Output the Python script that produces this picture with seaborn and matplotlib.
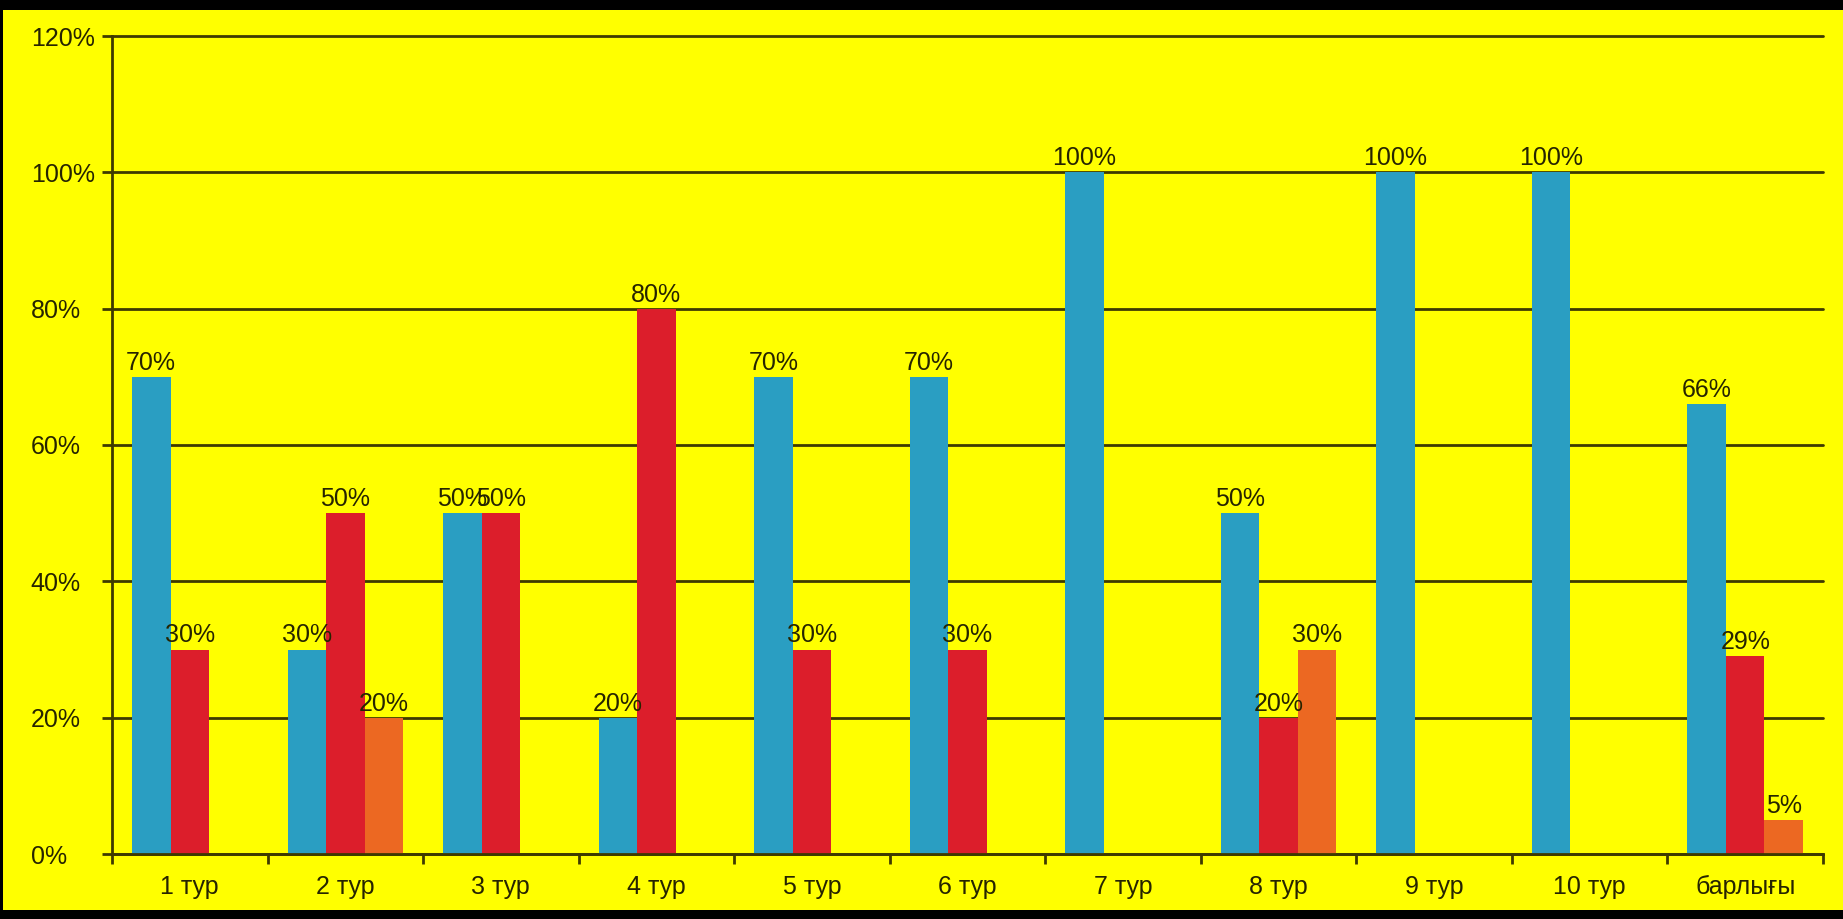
import matplotlib
matplotlib.use("Agg")
import matplotlib.pyplot as plt
import seaborn as sns
import pandas as pd
from matplotlib.patches import Rectangle
from matplotlib.ticker import FixedLocator

# ---- data ----
categories = ["1 тур", "2 тур", "3 тур", "4 тур", "5 тур", "6 тур",
              "7 тур", "8 тур", "9 тур", "10 тур", "барлығы"]
series_names = ["1-серия", "2-серия", "3-серия"]
blue_vals = [70, 30, 50, 20, 70, 70, 100, 50, 100, 100, 66]
red_vals = [30, 50, 50, 80, 30, 30, 0, 20, 0, 0, 29]
orange_vals = [0, 20, 0, 0, 0, 0, 0, 30, 0, 0, 5]
y_ticks = [0, 20, 40, 60, 80, 100, 120]
y_tick_labels = [f"{t}%" for t in y_ticks]

colors = ["#2A9EC2", "#DC1E2B", "#EC6822"]
text_color = "#262400"
grid_color = "#3E3A00"

df = pd.DataFrame({
    "category": categories * 3,
    "series": [series_names[0]] * len(categories)
              + [series_names[1]] * len(categories)
              + [series_names[2]] * len(categories),
    "value": blue_vals + red_vals + orange_vals,
})

sns.set_theme(style="white")
plt.rcParams['font.family'] = ['Liberation Sans', 'DejaVu Sans']

W, H = 1843, 919
FS = 18
fig = plt.figure(figsize=(W / 100, H / 100), dpi=100, facecolor="black")
fig.patches.append(Rectangle((3 / W, 9 / H), 1 - 3 / W, 900 / H,
                             transform=fig.transFigure, facecolor="#FFFF00",
                             edgecolor="none", zorder=-10))

ax = fig.add_axes([112 / W, 65 / H, (1823 - 112) / W, (854 - 36) / H])
ax.set_zorder(1)
ax.set_facecolor("#FFFF00")

sns.barplot(data=df, x="category", y="value", hue="series",
            order=categories, hue_order=series_names, palette=colors,
            width=0.743, saturation=1, errorbar=None, linewidth=0,
            legend=False, ax=ax)

for cont in ax.containers:
    labels = [f"{v:.0f}%" if v > 0 else "" for v in cont.datavalues]
    ax.bar_label(cont, labels=labels, padding=1.5, fontsize=FS,
                 color=text_color)

ax.set_ylim(0, 120)
ax.set_yticks(y_ticks)
ax.set_yticklabels(y_tick_labels)
ax.set_xlim(-0.5, len(categories) - 0.5)
ax.xaxis.set_minor_locator(FixedLocator([i - 0.5 for i in range(len(categories) + 1)]))

ax.set_axisbelow(True)
ax.yaxis.grid(True, color=grid_color, linewidth=2)
for ln in ax.get_ygridlines():
    ln.set_clip_on(False)

for s in ["top", "right"]:
    ax.spines[s].set_visible(False)
for s in ["left", "bottom"]:
    ax.spines[s].set_color(grid_color)
    ax.spines[s].set_linewidth(2)

ax.tick_params(axis="x", which="major", length=0, pad=15,
               labelsize=FS, labelcolor=text_color)
ax.tick_params(axis="x", which="minor", length=7, width=2, direction="out",
               color=grid_color, bottom=True)
ax.tick_params(axis="y", which="major", length=7, width=2, direction="out",
               color=grid_color, pad=51.5, labelsize=FS, labelcolor=text_color,
               left=True)
for lbl in ax.get_yticklabels():
    lbl.set_horizontalalignment("left")
ax.set_xlabel("")
ax.set_ylabel("")

fig.savefig("out.png", dpi=100, facecolor=fig.get_facecolor())
